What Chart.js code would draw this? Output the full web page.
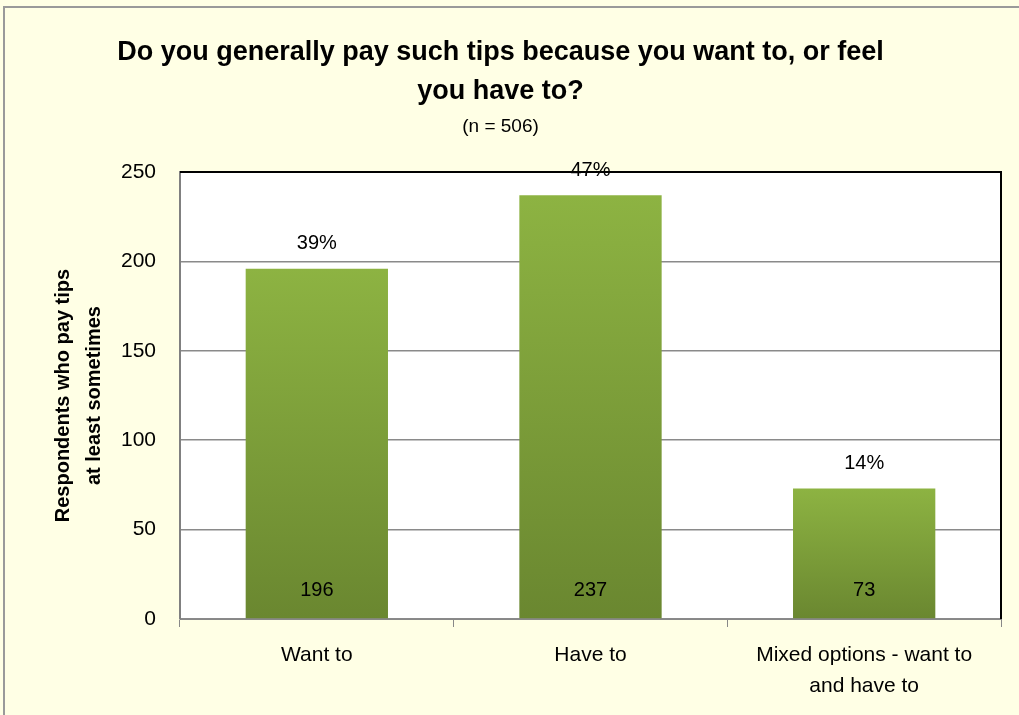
<!DOCTYPE html>
<html>
<head>
<meta charset="utf-8">
<script src="https://cdn.jsdelivr.net/npm/chart.js@4/dist/chart.umd.min.js"></script>
<style>
  html, body { margin: 0; padding: 0; background: #FFFFE5; }
  #wrap { width: 1019px; height: 715px; }
</style>
</head>
<body>
<div id="wrap"><canvas id="charts" width="1019" height="715"></canvas></div>
<script>
var labels = ['Want to', 'Have to', ['Mixed options - want to', 'and have to']];
var counts = [196, 237, 73];
var percents = ['39%', '47%', '14%'];
var yTicks = [0, 50, 100, 150, 200, 250];

var FONT = "'Liberation Sans Narrow', 'Liberation Sans', sans-serif";

// page background + frame + plot border
var framePlugin = {
    id: 'frame',
    beforeDraw: function (chart) {
        var c = chart.ctx;
        c.save();
        c.fillStyle = '#FFFFE5';
        c.fillRect(0, 0, chart.width, chart.height);
        var a = chart.chartArea;
        c.fillStyle = '#FFFFFF';
        c.fillRect(a.left, a.top, a.right - a.left, a.bottom - a.top);
        c.strokeStyle = '#9a9a9a';
        c.lineWidth = 2;
        c.beginPath();
        c.moveTo(4, chart.height);
        c.lineTo(4, 7);
        c.lineTo(chart.width, 7);
        c.stroke();
        c.restore();
    },
    afterDraw: function (chart) {
        var c = chart.ctx;
        var a = chart.chartArea;
        c.save();
        c.strokeStyle = '#000';
        c.lineWidth = 2;
        c.beginPath();
        c.moveTo(a.left, a.top);
        c.lineTo(a.right, a.top);
        c.lineTo(a.right, a.bottom);
        c.stroke();
        c.restore();
    }
};

// value labels: percent above bar, count inside at the bottom
var labelPlugin = {
    id: 'barLabels',
    afterDatasetsDraw: function (chart) {
        var c = chart.ctx;
        var meta = chart.getDatasetMeta(0);
        c.save();
        c.font = '20px ' + FONT;
        c.fillStyle = '#000';
        c.textAlign = 'center';
        c.textBaseline = 'middle';
        meta.data.forEach(function (bar, i) {
            c.fillText(percents[i], bar.x, bar.y - 25);
            c.fillText(String(counts[i]), bar.x, bar.base - 28);
        });
        c.restore();
    }
};

function barFill(ctx) {
    var chart = ctx.chart;
    if (!chart.chartArea || !chart.scales.y) return '#7DA036';
    var y = chart.scales.y;
    var top = y.getPixelForValue(counts[ctx.dataIndex]);
    var bottom = y.getPixelForValue(0);
    var g = chart.ctx.createLinearGradient(0, top, 0, bottom);
    g.addColorStop(0, '#8DB342');
    g.addColorStop(1, '#6A8730');
    return g;
}

var ctx = document.getElementById('charts');
new Chart(ctx, {
    type: 'bar',
    data: {
        labels: labels,
        datasets: [{
            label: 'Respondents',
            data: counts,
            backgroundColor: barFill,
            borderWidth: 0,
            barPercentage: 0.52,
            categoryPercentage: 1
        }]
    },
    options: {
        responsive: false,
        animation: false,
        layout: { padding: { left: 0, right: 18, top: 0, bottom: 1 } },
        plugins: {
            legend: { display: false },
            tooltip: { enabled: false },
            title: {
                display: true,
                text: ['Do you generally pay such tips because you want to, or feel', 'you have to?'],
                color: '#000',
                font: { family: FONT, size: 27, weight: 'bold', lineHeight: 1.45 },
                padding: { top: 33, bottom: 4 }
            },
            subtitle: {
                display: true,
                text: '(n = 506)',
                color: '#000',
                font: { family: FONT, size: 19 },
                padding: { top: 0, bottom: 34 }
            }
        },
        scales: {
            x: {
                grid: {
                    offset: true,
                    drawOnChartArea: false,
                    drawTicks: true,
                    tickLength: 8,
                    color: '#888'
                },
                border: { color: '#888', width: 1 },
                ticks: {
                    color: '#000',
                    font: { family: FONT, size: 21, lineHeight: 1.5 },
                    padding: 12,
                    maxRotation: 0
                }
            },
            y: {
                min: 0,
                max: 250,
                afterBuildTicks: function (axis) {
                    axis.ticks = yTicks.map(function (v) { return { value: v }; });
                },
                afterFit: function (axis) { axis.width = 180; },
                grid: { color: '#8a8a8a', drawTicks: false, lineWidth: 1.5 },
                border: { color: '#808080', width: 2 },
                ticks: {
                    color: '#000',
                    font: { family: FONT, size: 21 },
                    padding: 24
                },
                title: {
                    display: true,
                    text: ['Respondents who pay tips', 'at least sometimes'],
                    color: '#000',
                    font: { family: FONT, size: 20, weight: 'bold', lineHeight: 1.55 },
                    padding: { top: 48, bottom: 0 }
                }
            }
        }
    },
    plugins: [framePlugin, labelPlugin]
});
</script>
</body>
</html>
